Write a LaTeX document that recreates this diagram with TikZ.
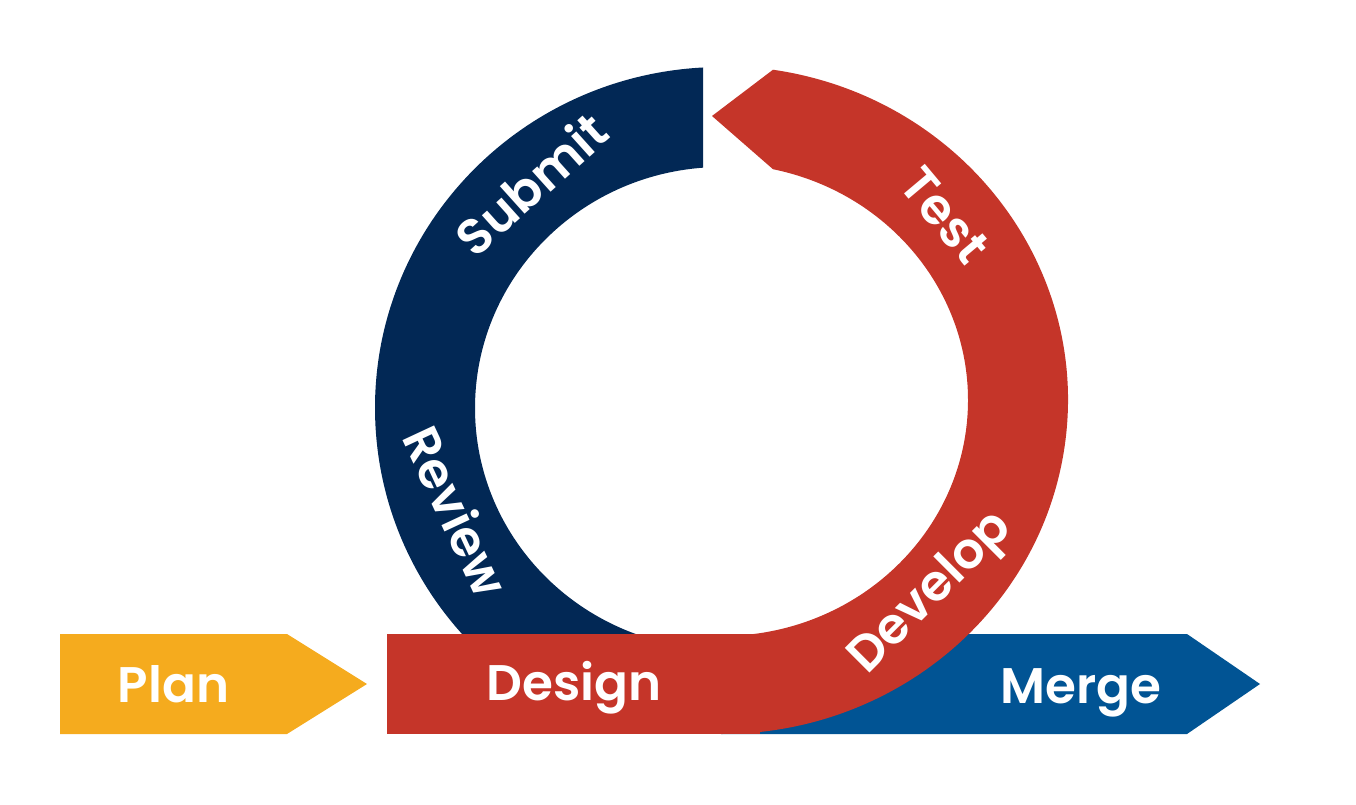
\documentclass[tikz,border=0pt]{standalone}
\usepackage{fontspec}
\setmainfont{Poppins}[BoldFont={Poppins SemiBold}]
\usetikzlibrary{calc}
\definecolor{navyblue}{HTML}{022855}
\definecolor{cyclered}{HTML}{C53529}
\definecolor{planorange}{HTML}{F5AB1E}
\definecolor{mergeblue}{HTML}{015494}
\tikzset{
  lbl/.style={text=white, inner sep=0pt, font=\fontsize{50}{60}\selectfont\bfseries},
  ringlbl/.style={lbl, anchor=center, text height=35pt, text depth=0pt},
}
\begin{document}
\begin{tikzpicture}[x=1pt,y=1pt]
\useasboundingbox (0,0) rectangle (1356,804);
\coordinate (redc) at (721.5,404);
\coordinate (navc) at (721.5,396);

% Merge arrow (behind the red band)
\fill[mergeblue] (721,70) -- (1187,70) -- (1260,120) -- (1187,170) -- (721,170) -- cycle;

% Navy half ring (Submit / Review)
\begin{scope}
  \clip (0,120) rectangle (1356,804);
  \fill[navyblue] (navc) ++(93.06:346.5 and 341)
    arc[start angle=93.06, end angle=270, x radius=346.5, y radius=341]
    -- ++(0,100)
    arc[start angle=270, end angle=94.3, x radius=246.5, y radius=241]
    -- cycle;
\end{scope}

% Red band: Design bar and the arc up to the arrow head
\fill[cyclered] (387,70) rectangle (760,170);
\fill[cyclered] (redc) ++(81.45:346.5 and 334)
  arc[start angle=81.45, end angle=-90, x radius=346.5, y radius=334]
  -- ++(0,98)
  arc[start angle=-90, end angle=77.94, x radius=246.5, y radius=236]
  -- (712,688) -- cycle;

% Plan arrow
\fill[planorange] (60,70) -- (287,70) -- (367,120) -- (287,170) -- (60,170) -- cycle;

% Labels
\node[lbl, anchor=base] (plan) at (173.5,101.5) {Plan};
\node[lbl, anchor=base] (design) at (574,104) {Design};
\node[lbl, anchor=base] (merge) at (1081,101) {Merge};
\node[ringlbl, rotate=42] (submit) at (532,619) {Submit};
\node[ringlbl, rotate=-65] (review) at (455,292) {Review};
\node[ringlbl, rotate=-50] (test) at (945,589) {Test};
\node[ringlbl, rotate=45] (develop) at (928,214) {Develop};
\end{tikzpicture}
\end{document}
